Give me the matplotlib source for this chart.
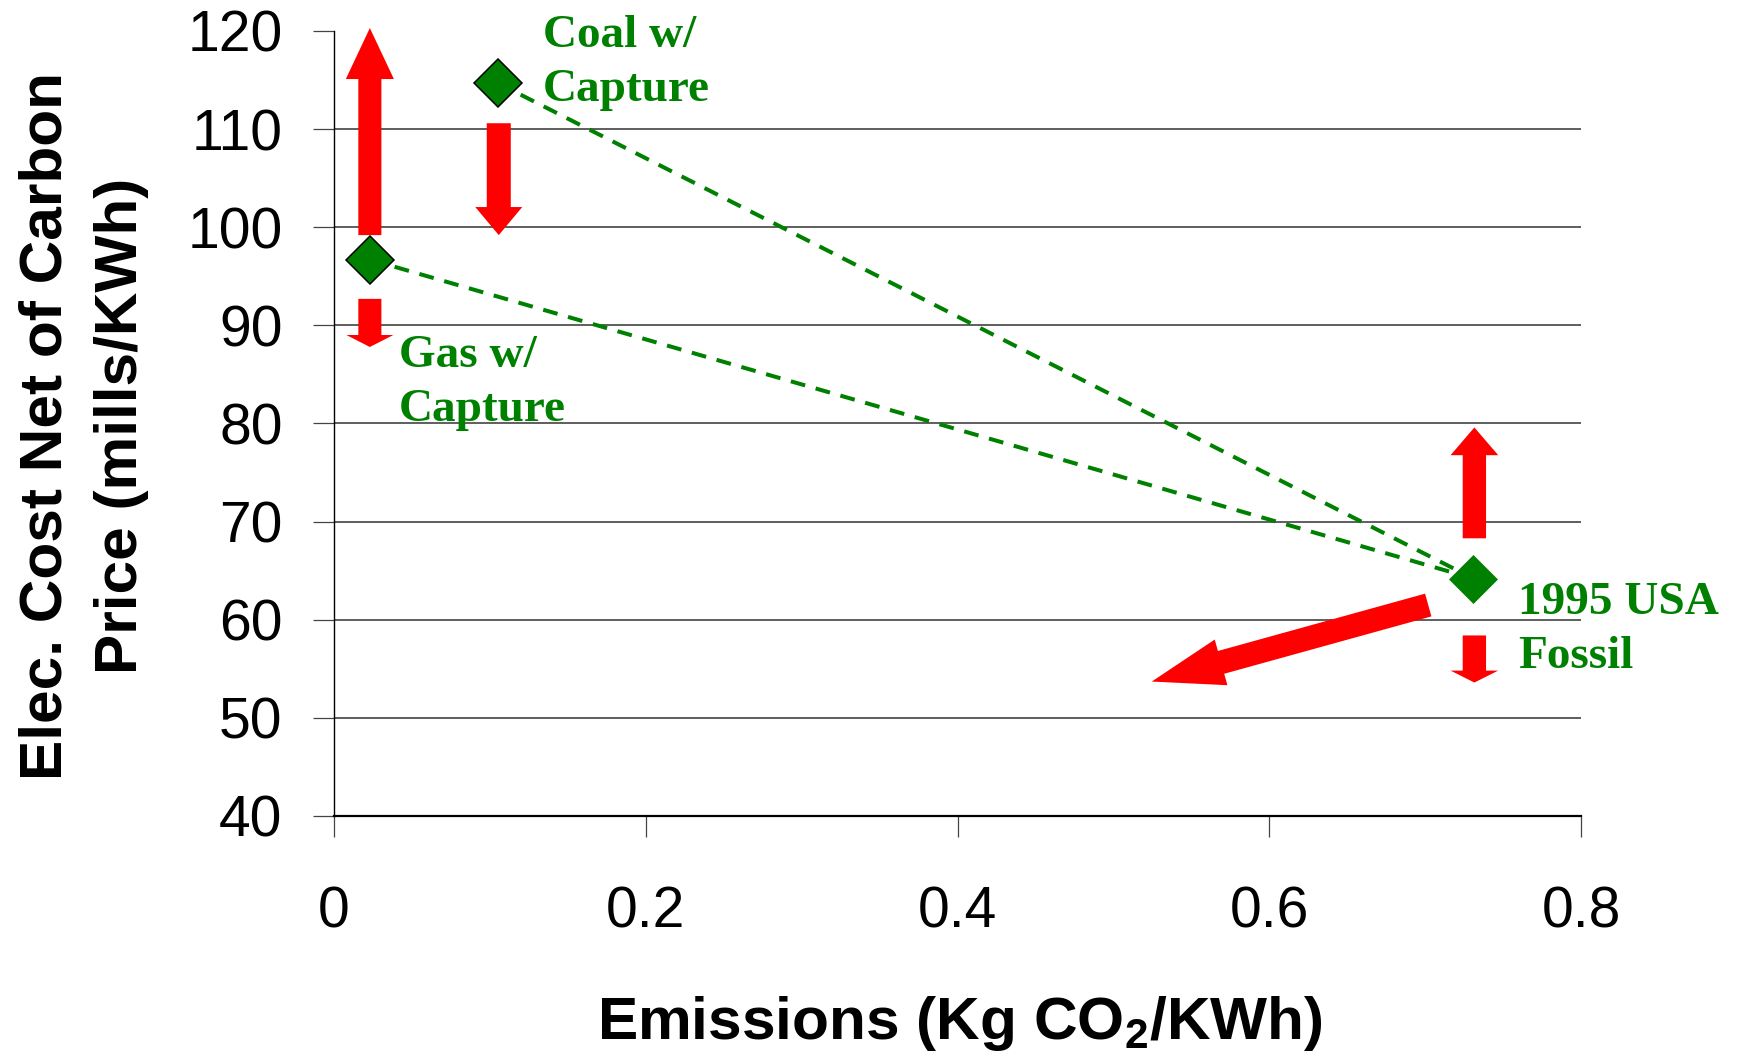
import matplotlib
matplotlib.use("Agg")
import matplotlib.pyplot as plt
from matplotlib.patches import FancyArrowPatch

plt.rcParams['font.family'] = ['Liberation Sans', 'DejaVu Sans']
plt.rcParams['mathtext.fontset'] = 'custom'
plt.rcParams['mathtext.rm'] = 'Liberation Sans:bold'
plt.rcParams['mathtext.it'] = 'Liberation Sans:bold'
plt.rcParams['mathtext.bf'] = 'Liberation Sans:bold'

# plants: emissions (kg CO2/kWh) vs cost (mills/kWh)
tech_names = ["Coal w/\nCapture", "Gas w/\nCapture", "1995 USA\nFossil"]
emissions = [0.105, 0.023, 0.731]
cost = [114.7, 96.7, 64.2]

# red arrows, (tail, tip) in data units
arrow_tails = [(0.023, 99.2), (0.1057, 110.6), (0.023, 92.7),
               (0.7316, 68.3), (0.7316, 58.4), (0.702, 61.5)]
arrow_tips = [(0.023, 120.3), (0.1057, 99.2), (0.023, 87.8),
              (0.7316, 79.6), (0.7316, 53.6), (0.5246, 53.7)]

x_ticks = [0, 0.2, 0.4, 0.6, 0.8]
x_ticklabels = ["0", "0.2", "0.4", "0.6", "0.8"]
y_ticks = [40, 50, 60, 70, 80, 90, 100, 110, 120]

green = "#008000"

fig = plt.figure(figsize=(17.37, 10.54), dpi=100)
ax = fig.add_axes([0.19229, 0.22581, 0.71790, 0.74478])
ax.set_xlim(0, 0.8)
ax.set_ylim(40, 120)

for yv in y_ticks[1:-1]:
    ax.axhline(yv, color="#333333", lw=1.1, zorder=0)

for sp in ["top", "right"]:
    ax.spines[sp].set_visible(False)
ax.spines["left"].set_linewidth(1.0)
ax.spines["bottom"].set_linewidth(1.6)

ax.set_xticks(x_ticks)
ax.set_xticklabels(x_ticklabels)
ax.set_yticks(y_ticks)
ax.tick_params(axis="x", direction="out", length=15, width=0.9, color="#444444",
               labelsize=41, pad=35)
ax.tick_params(axis="y", direction="out", length=15, width=0.9, color="#444444",
               labelsize=41, pad=22)

# dashed links to 1995 USA fossil
for i in range(2):
    ax.plot([emissions[i], emissions[2]], [cost[i], cost[2]], color=green,
            lw=2.9, dashes=(3.7, 2.7), zorder=2)

ax.plot(emissions[:2], cost[:2], ls="none", marker="D", ms=24, mfc=green,
        mec="black", mew=1.1, zorder=4, clip_on=False)
ax.plot(emissions[2:], cost[2:], ls="none", marker="D", ms=24, mfc=green,
        mec=green, mew=0.5, zorder=4, clip_on=False)

# head_length, head_width, tail_width in points
arrow_sizes = [(36.7, 34.6, 16.6), (20.2, 33.8, 17.3), (8.6, 33.8, 16.6),
               (20.0, 34.3, 16.8), (8.6, 34.3, 16.8), (51.8, 34.1, 17.0)]
for tail, tip, (hl, hw, tw) in zip(arrow_tails, arrow_tips, arrow_sizes):
    p = FancyArrowPatch(tail, tip,
                        arrowstyle=f"simple,head_length={hl},head_width={hw},tail_width={tw}",
                        mutation_scale=1, color="#ff0000", lw=0,
                        shrinkA=0, shrinkB=0, zorder=3, clip_on=False)
    ax.add_patch(p)

# anchored at the baseline of the last line
label_pos = [(0.1341, 112.87), (0.0417, 80.25), (0.7596, 55.08)]
for name, (lx, ly) in zip(tech_names, label_pos):
    ax.text(lx, ly, name, color=green, fontsize=34, fontweight="bold",
            family=["Liberation Serif", "DejaVu Serif"], ha="left", va="baseline",
            linespacing=1.37, zorder=5)

fig.text(0.0484, 0.5958, "Elec. Cost Net of Carbon\nPrice (mills/KWh)",
         rotation=90, ha="center", va="center", fontsize=43.5,
         fontweight="bold", linespacing=1.48)
fig.text(0.5524, 1 - 1039 / 1054, "Emissions (Kg CO$_2$/KWh)",
         ha="center", va="baseline", fontsize=43.5, fontweight="bold")

fig.savefig("out.png", dpi=100)
